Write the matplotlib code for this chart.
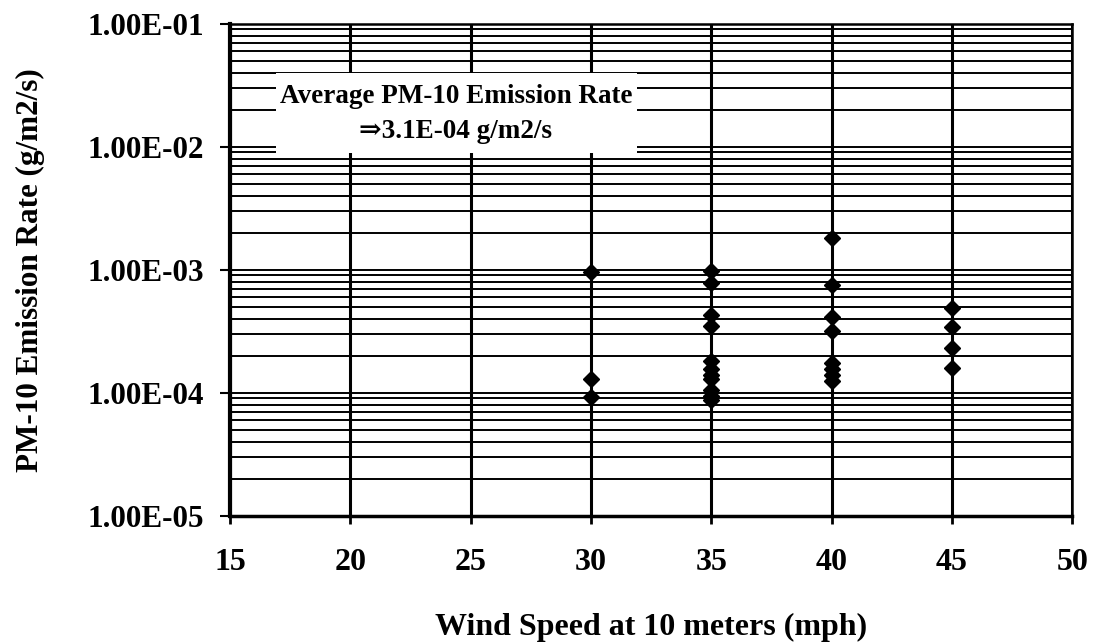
import numpy as np
import matplotlib.pyplot as plt
from matplotlib.patches import Rectangle
from matplotlib.ticker import FixedLocator, LogLocator, NullFormatter

# wind speed (mph) and measured PM-10 emission rate (g/m2/s)
speed_30 = [30, 30, 30]
rate_30 = [9.6e-4, 1.3e-4, 9.3e-5]
speed_35 = [35] * 11
rate_35 = [9.8e-4, 7.8e-4, 4.3e-4, 3.5e-4, 1.8e-4, 1.55e-4, 1.4e-4, 1.3e-4, 1.05e-4, 9.5e-5, 8.8e-5]
speed_40 = [40] * 8
rate_40 = [1.8e-3, 7.5e-4, 4.1e-4, 3.2e-4, 1.75e-4, 1.55e-4, 1.4e-4, 1.25e-4]
speed_45 = [45] * 4
rate_45 = [4.9e-4, 3.4e-4, 2.3e-4, 1.6e-4]

x_ticks = [15, 20, 25, 30, 35, 40, 45, 50]
y_ticks = [1e-5, 1e-4, 1e-3, 1e-2, 1e-1]
y_labels = ['1.00E-05', '1.00E-04', '1.00E-03', '1.00E-02', '1.00E-01']

serif = ['Liberation Serif', 'DejaVu Serif']
plt.rcParams['font.family'] = serif
plt.rcParams['font.weight'] = 'bold'

fig = plt.figure(figsize=(11.01, 6.44), dpi=100)
ax = fig.add_axes([0.209, 0.199, 0.765, 0.764])

ax.set_yscale('log')
ax.set_xlim(15, 50)
ax.set_ylim(1e-5, 1e-1)

# horizontal lines at every log step, vertical ones every 5 mph
ax.yaxis.set_minor_locator(LogLocator(base=10, subs=np.arange(2, 10)))
ax.yaxis.set_minor_formatter(NullFormatter())
ax.grid(True, which='both', axis='y', color='black', lw=1.4)
ax.grid(True, which='major', axis='x', color='black', lw=2.2)
ax.set_axisbelow(True)

xs = speed_30 + speed_35 + speed_40 + speed_45
ys = rate_30 + rate_35 + rate_40 + rate_45
ax.plot(xs, ys, 'D', color='black', ms=8.5, zorder=5)

ax.xaxis.set_major_locator(FixedLocator(x_ticks))
ax.set_xticklabels([str(v) for v in x_ticks], fontsize=23, fontweight='bold')
ax.yaxis.set_major_locator(FixedLocator(y_ticks))
ax.set_yticklabels(y_labels, fontsize=22.4, fontweight='bold')
ax.tick_params(axis='y', which='minor', length=0)
ax.tick_params(axis='y', which='major', length=7, width=1.5, pad=12)
ax.tick_params(axis='x', which='major', length=6, width=2, pad=17)

for side in ['left', 'bottom', 'top', 'right']:
    ax.spines[side].set_linewidth(1.8)
ax.spines['left'].set_linewidth(3)
ax.spines['bottom'].set_linewidth(2.5)

ax.set_xlabel('Wind Speed at 10 meters (mph)', fontsize=23, fontweight='bold', labelpad=26)
ax.set_ylabel('PM-10 Emission Rate (g/m2/s)', fontsize=22.4, fontweight='bold', labelpad=30)

# white box behind the annotation
ax.add_patch(Rectangle((0.054, 0.738), 0.429, 0.163, transform=ax.transAxes,
                       facecolor='white', edgecolor='none', zorder=3))
ax.text(0.268, 0.852, 'Average PM-10 Emission Rate', transform=ax.transAxes,
        ha='center', va='center', fontsize=19.5, fontweight='bold', zorder=4)
ax.text(0.268, 0.781, '\u21d23.1E-04 g/m2/s', transform=ax.transAxes,
        ha='center', va='center', fontsize=19.5, fontweight='bold', zorder=4)

plt.savefig('out.png', dpi=100)
